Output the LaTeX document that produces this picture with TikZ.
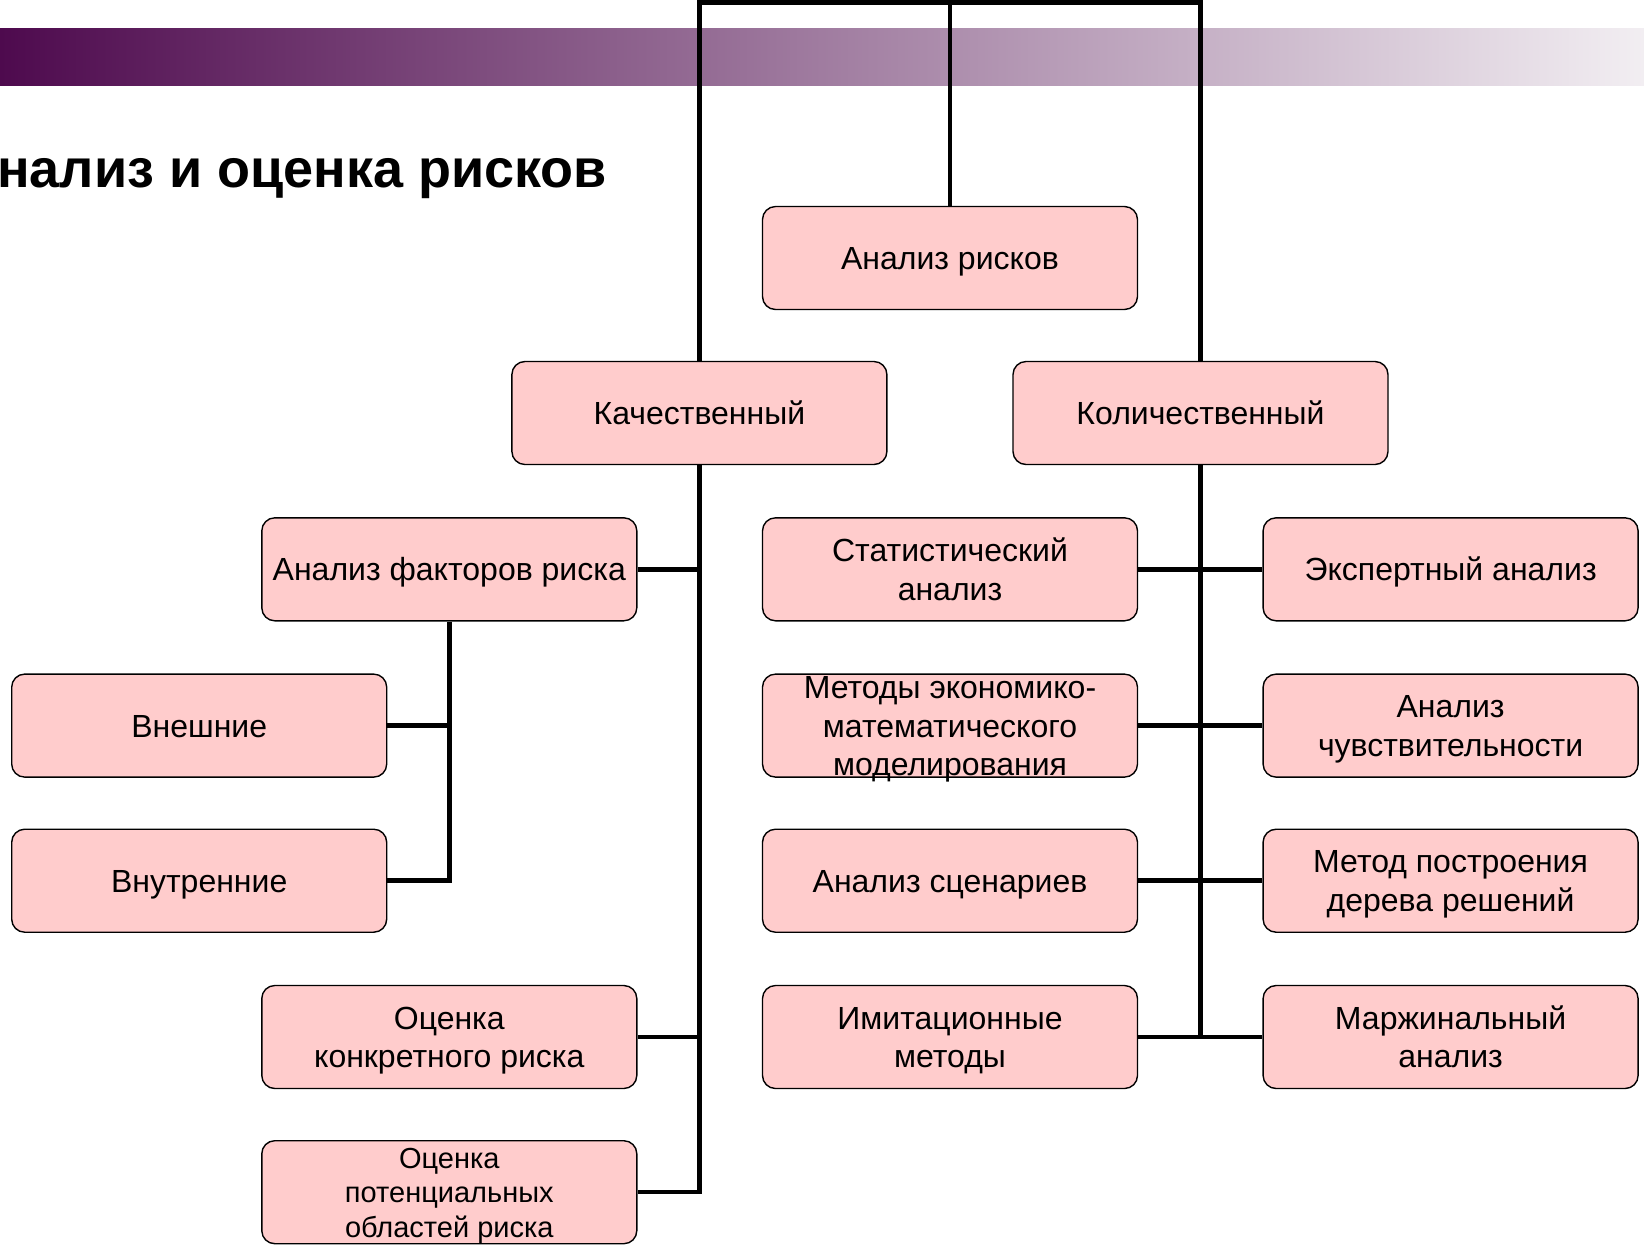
\documentclass[tikz,border=0pt]{standalone}
\usepackage{fontspec}
\setmainfont{Liberation Sans}
\usepackage{xcolor}
\usepackage{tikz}
\definecolor{boxpink}{HTML}{FFCCCC}
\definecolor{plumdark}{RGB}{78,10,78}
\definecolor{plumlight}{RGB}{242,238,242}

\begin{document}
\begin{tikzpicture}[x=0.5pt,y=-0.5pt,
    riskbox/.style={draw=black,line width=0.7pt,fill=boxpink,rounded corners=6.5pt,
        minimum width=187.5pt,minimum height=51.5pt,inner sep=0pt,align=center,
        font=\fontsize{16}{19.3}\selectfont,text height=11.5pt,text depth=0pt},
    twolines/.style={text height=30.8pt},
    threelines/.style={text height=50.1pt},
    link/.style={line width=2.25pt,black}]
            \useasboundingbox (0,0) rectangle (1644,1244);
            \clip (0,0) rectangle (1644,1244);
            \fill[left color=plumdark,right color=plumlight] (0,28) rectangle (1644,85);
            \node[anchor=base east,font=\fontsize{27}{32}\selectfont\bfseries] (title) at (614,187) {Анализ и оценка рисков};
            \node[riskbox] (analiz) at (950,258) {Анализ рисков};
            \node[riskbox] (kach) at (699.4,413) {Качественный};
            \node[riskbox] (kolich) at (1200.5,413) {Количественный};
            \node[riskbox] (faktor) at (449.3,569.3) {Анализ факторов риска};
            \node[riskbox] (vnesh) at (199.2,725.6) {Внешние};
            \node[riskbox] (vnutr) at (199.2,880.7) {Внутренние};
            \node[riskbox,twolines] (konkr) at (449.3,1037) {Оценка\\конкретного риска};
            \node[riskbox,font=\fontsize{14.5}{17.3}\selectfont,text height=45pt] (potenc) at (449.3,1192.2) {Оценка\\потенциальных\\областей риска};
            \node[riskbox,twolines] (stat) at (950,569.3) {Статистический\\анализ};
            \node[riskbox,threelines] (model) at (950,725.6) {Методы экономико-\\математического\\моделирования};
            \node[riskbox] (scen) at (950,880.7) {Анализ сценариев};
            \node[riskbox,twolines] (imit) at (950,1037) {Имитационные\\методы};
            \node[riskbox] (expert) at (1450.6,569.3) {Экспертный анализ};
            \node[riskbox,twolines] (sensit) at (1450.6,725.6) {Анализ\\чувствительности};
            \node[riskbox,twolines] (tree) at (1450.6,880.7) {Метод построения\\дерева решений};
            \node[riskbox,twolines] (marzh) at (1450.6,1037) {Маржинальный\\анализ};
            \coordinate (top) at (950,2.5);
            \draw[link] (kach.north) |- (top) -| (kolich.north);
            \draw[link] (analiz.north) -- (analiz.north |- top);
            \draw[link] (kach.south) |- (potenc.east);
            \draw[link] (faktor.east) -- (faktor.east -| kach.south);
            \draw[link] (konkr.east) -- (konkr.east -| kach.south);
            \draw[link] (faktor.south) |- (vnutr.east);
            \draw[link] (vnesh.east) -- (vnesh.east -| faktor.south);
            \draw[link] (kolich.south) -- (kolich.south |- imit.east);
            \foreach \a/\b in {stat/expert,model/sensit,scen/tree,imit/marzh}
                \draw[link] (\a.east) -- (\b.west);
        \end{tikzpicture}
\end{document}
